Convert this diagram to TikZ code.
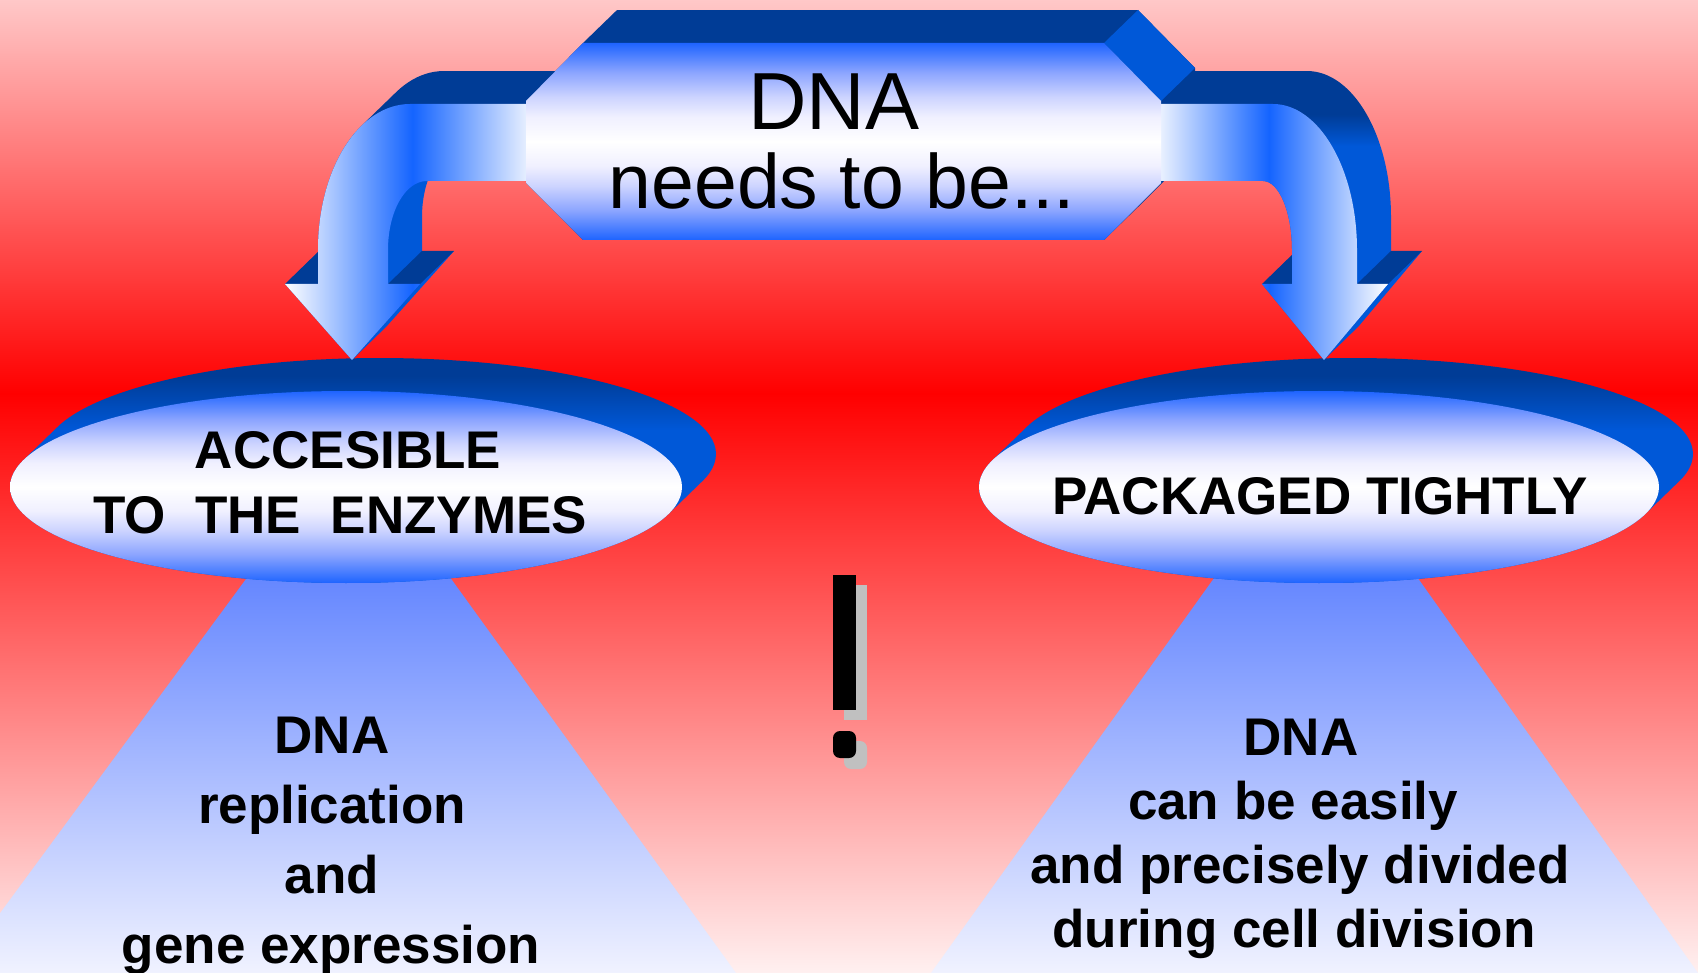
\documentclass[tikz,border=0pt]{standalone}
\usepackage{fontspec}
\setmainfont{Liberation Sans}
\definecolor{sideD}{RGB}{0,60,150}
\definecolor{sideM}{RGB}{0,88,216}
\definecolor{faceBlue}{RGB}{30,100,255}
\definecolor{faceCa}{RGB}{140,165,255}
\definecolor{faceCb}{RGB}{205,212,255}
\definecolor{faceCc}{RGB}{240,240,255}
\definecolor{arrowBlue}{RGB}{20,100,255}
\definecolor{trapTop}{RGB}{95,130,255}
\definecolor{trapBot}{RGB}{240,242,255}
\definecolor{bgTop}{RGB}{255,200,200}
\definecolor{bgRed}{RGB}{255,0,0}
\definecolor{bgBot}{RGB}{255,240,240}
\definecolor{shadowGray}{RGB}{192,192,192}
\pgfdeclareverticalshading{bgshade}{100bp}{color(0bp)=(bgBot); color(25bp)=(bgBot); color(54.8bp)=(bgRed); color(75bp)=(bgTop); color(100bp)=(bgTop)}
\pgfdeclareverticalshading{faceshade}{100bp}{color(0bp)=(faceBlue); color(25bp)=(faceBlue); color(32.5bp)=(faceCa); color(38.75bp)=(faceCb); color(43.75bp)=(faceCc); color(50bp)=(white); color(56.25bp)=(faceCc); color(61.25bp)=(faceCb); color(67.5bp)=(faceCa); color(75bp)=(faceBlue); color(100bp)=(faceBlue)}
\pgfdeclareverticalshading{sideA}{100bp}{color(0bp)=(sideM); color(25bp)=(sideM); color(62bp)=(sideM); color(67.5bp)=(sideD); color(75bp)=(sideD); color(100bp)=(sideD)}
\pgfdeclareverticalshading{sideE}{100bp}{color(0bp)=(sideM); color(25bp)=(sideM); color(59bp)=(sideM); color(71bp)=(sideD); color(75bp)=(sideD); color(100bp)=(sideD)}
\def\LArrow#1{(#1,104) -- (410,104) .. controls (359,104) and (318,169) .. (318,250) -- (318,284) -- (285,284) -- (352,360) -- (420,284) -- (388,284) -- (388,250) .. controls (388,212) and (405,181) .. (427,181) -- (#1,181) -- cycle}
\def\RArrow#1{(#1,104) -- (1273,104) .. controls (1319,104) and (1357,169) .. (1357,250) -- (1357,284) -- (1388,284) -- (1324,360) -- (1262,284) -- (1292,284) -- (1292,250) .. controls (1292,212) and (1279,181) .. (1263,181) -- (#1,181) -- cycle}
\def\BoxPath{(583,43) -- (1104,43) -- (1161,101) -- (1161,183) -- (1104,240) -- (583,240) -- (526,183) -- (526,101) -- cycle}
\tikzset{
  boldtxt/.style={font=\fontsize{53}{60}\selectfont\bfseries, inner sep=0pt, anchor=base},
  toptxt/.style={font=\fontsize{77}{80}\selectfont, inner sep=0pt, anchor=base},
  frontface/.style={shading=faceshade},
  arrowface/.style={left color=white, right color=white, middle color=arrowBlue},
  trapface/.style={top color=trapTop, bottom color=trapBot}
}
\begin{document}
\begin{tikzpicture}[x=1pt,y=-1pt]
\useasboundingbox (0,0) rectangle (1698,973);
\clip (0,0) rectangle (1698,973);
% background
\shade[shading=bgshade] (0,0) rectangle (1698,973);
% light trapezoids
\shade[trapface] (260,560) -- (437.5,560) -- (736,973) -- (-44,973) -- cycle;
\shade[trapface] (1227,560) -- (1405,560) -- (1698,973) -- (931,973) -- cycle;
% ellipses
\shade[shading=sideE] \foreach \k in {0,...,34} {(346+\k,487-0.97*\k) ellipse [x radius=336, y radius=96]};
\shade[frontface] (346,487) ellipse [x radius=336, y radius=96];
\shade[shading=sideE] \foreach \k in {0,...,34} {(1319+\k,487-0.97*\k) ellipse [x radius=340, y radius=96]};
\shade[frontface] (1319,487) ellipse [x radius=340, y radius=96];
% box extrusion
\fill[sideD] \foreach \k in {0,...,34} {{[shift={(\k,-0.97*\k)}] \BoxPath}};
\fill[sideM] (1104,43) -- (1138,10) -- (1195,68) -- (1161,101) -- cycle;
% arrow extrusions
\shade[shading=sideA] \foreach \k in {0,...,34} {{[shift={(\k,-0.97*\k)}] \LArrow{540}}};
\shade[shading=sideA] \foreach \k in {0,...,34} {{[shift={(\k,-0.97*\k)}] \RArrow{1161}}};
\fill[sideD] (285,284) -- (318,284) -- (352,251) -- (319,251) -- cycle;
\fill[sideD] (388,284) -- (420,284) -- (454,251) -- (422,251) -- cycle;
\fill[sideD] (1262,284) -- (1292,284) -- (1326,251) -- (1296,251) -- cycle;
\fill[sideD] (1357,284) -- (1388,284) -- (1422,251) -- (1391,251) -- cycle;
% arrow fronts
\shade[arrowface] \LArrow{540};
\shade[arrowface] \RArrow{1150};
% box front
\shade[frontface] \BoxPath;
% texts
\node[toptxt, font=\fontsize{81}{84}\selectfont] (dna) at (834,130) {DNA};
\node[toptxt] (needs) at (842,209) {needs to be...};
\node[boldtxt] (acc1) at (348,468) {ACCESIBLE};
\node[boldtxt] (acc2) at (340,533) {TO\ \ THE\ \ ENZYMES};
\node[boldtxt] (pack) at (1320,514) {PACKAGED TIGHTLY};
\node[boldtxt] (l1) at (332,753) {DNA};
\node[boldtxt] (l2) at (332,823) {replication};
\node[boldtxt] (l3) at (332,893) {and};
\node[boldtxt] (l4) at (331,963) {gene expression};
\node[boldtxt] (r1) at (1301,755) {DNA};
\node[boldtxt] (r2) at (1293,819) {can be easily};
\node[boldtxt] (r3) at (1300,883) {and precisely divided};
\node[boldtxt] (r4) at (1294,947) {during cell division};
% exclamation mark
\fill[shadowGray] (844,585) rectangle (867,720);
\fill[shadowGray, rounded corners=7pt] (844,741) rectangle (867,769);
\fill[black] (833,575) rectangle (856,710);
\fill[black, rounded corners=7pt] (833,731) rectangle (856,758);
\end{tikzpicture}
\end{document}
